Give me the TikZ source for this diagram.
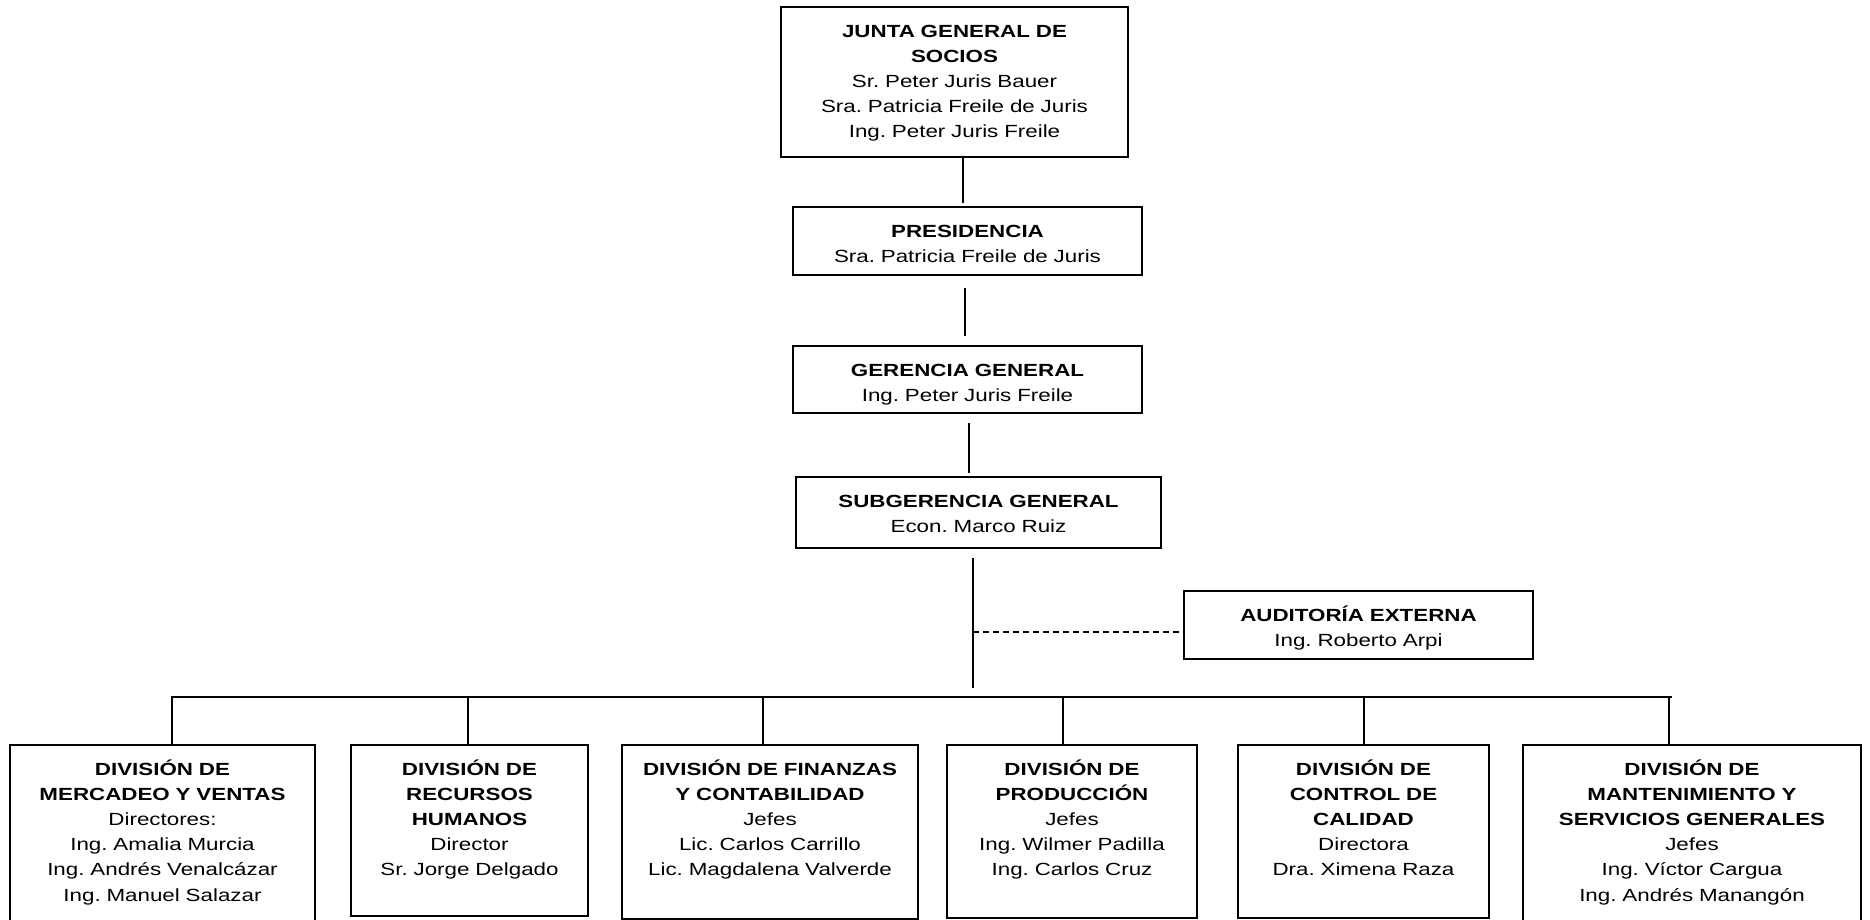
\documentclass[tikz,border=0pt]{standalone}
\usepackage{fontspec}
\setmainfont[FakeStretch=1.27]{Liberation Sans}
\usetikzlibrary{calc,fit}
\frenchspacing

% one organisational unit: name, corners (x1,y1) (x2,y2), contents
\newcommand{\orgunit}[6]{%
  \node[unitbox, fit={(#2,#3) (#4,#5)}] (#1) {};
  \node[boxtext] (#1-t) at ($(#1.north)+(0,30.5)$) {#6};
}

\begin{document}
\begin{tikzpicture}[x=0.5pt, y=-0.5pt,
  unitbox/.style={draw=black, line width=0.85pt, inner sep=0pt, outer sep=0pt},
  boxtext/.style={anchor=base, inner sep=0pt, text width=170pt, align=center,
    font=\fontsize{8.8}{12.55}\selectfont},
  link/.style={draw=black, line width=0.75pt},
  buslink/.style={draw=black, line width=1pt},
  dashlink/.style={draw=black, line width=0.75pt, dash pattern=on 3pt off 2pt}]

\clip (0,0) rectangle (1870,920);
\fill[white] (0,0) rectangle (1870,920);

% governing bodies
\orgunit{jgs}{781}{7}{1128}{157}{\textbf{JUNTA GENERAL DE}\\\textbf{SOCIOS}\\Sr. Peter Juris Bauer\\Sra. Patricia Freile de Juris\\Ing. Peter Juris Freile}
\orgunit{pres}{793}{207}{1142}{275}{\textbf{PRESIDENCIA}\\Sra. Patricia Freile de Juris}
\orgunit{ger}{793}{346}{1142}{413}{\textbf{GERENCIA GENERAL}\\Ing. Peter Juris Freile}
\orgunit{sub}{796}{477}{1161}{548}{\textbf{SUBGERENCIA GENERAL}\\Econ. Marco Ruiz}
\orgunit{aud}{1184}{591}{1533}{659}{\textbf{AUDITORÍA EXTERNA}\\Ing. Roberto Arpi}

% divisions
\orgunit{b1}{10}{745}{315}{935}{\textbf{DIVISIÓN DE}\\\textbf{MERCADEO Y VENTAS}\\Directores:\\Ing. Amalia Murcia\\Ing. Andrés Venalcázar\\Ing. Manuel Salazar}
\orgunit{b2}{351}{745}{588}{916}{\textbf{DIVISIÓN DE}\\\textbf{RECURSOS}\\\textbf{HUMANOS}\\Director\\Sr. Jorge Delgado}
\orgunit{b3}{622}{745}{918}{919}{\textbf{DIVISIÓN DE FINANZAS}\\\textbf{Y CONTABILIDAD}\\Jefes\\Lic. Carlos Carrillo\\Lic. Magdalena Valverde}
\orgunit{b4}{947}{745}{1197}{918}{\textbf{DIVISIÓN DE}\\\textbf{PRODUCCIÓN}\\Jefes\\Ing. Wilmer Padilla\\Ing. Carlos Cruz}
\orgunit{b5}{1238}{745}{1489}{918}{\textbf{DIVISIÓN DE}\\\textbf{CONTROL DE}\\\textbf{CALIDAD}\\Directora\\Dra. Ximena Raza}
\orgunit{b6}{1523}{745}{1861}{935}{\textbf{DIVISIÓN DE}\\\textbf{MANTENIMIENTO Y}\\\textbf{SERVICIOS GENERALES}\\Jefes\\Ing. Víctor Cargua\\Ing. Andrés Manangón}

% vertical chain of command
\coordinate (k1) at (963,0);
\coordinate (k2) at (965,0);
\coordinate (k3) at (969,0);
\coordinate (k4) at (973,0);
\draw[link] (jgs.south -| k1) -- ($(pres.north -| k1)+(0,-4)$);
\draw[link] ($(pres.south -| k2)+(0,13)$) -- ($(ger.north -| k2)+(0,-10)$);
\draw[link] ($(ger.south -| k3)+(0,10)$) -- ($(sub.north -| k3)+(0,-4)$);
\coordinate (trunkend) at (973,688);
\draw[link] ($(sub.south -| k4)+(0,10)$) -- (trunkend);

% external audit (advisory)
\coordinate (tap) at (973,632);
\draw[dashlink] (tap) -- (tap -| aud.west);

% distribution bus and drops to the divisions
\coordinate (busL) at (171,697);
\coordinate (busR) at (1672,697);
\draw[buslink] (busL) -- (busR);
\coordinate (d1) at (172,697);
\coordinate (d2) at (468,697);
\coordinate (d3) at (763,697);
\coordinate (d4) at (1063,697);
\coordinate (d5) at (1364,697);
\coordinate (d6) at (1669,697);
\foreach \i in {1,...,6}{
  \draw[link] (d\i) -- (d\i |- b\i.north);
}
\end{tikzpicture}
\end{document}
